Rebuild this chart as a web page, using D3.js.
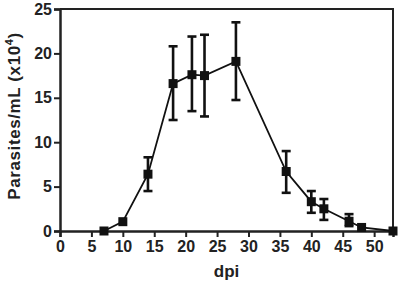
<!DOCTYPE html>
<html>
<head>
  <meta charset="UTF-8" />
  <script src="https://cdn.jsdelivr.net/npm/d3@7"></script>
  <style>
    body { margin: 0; background: #fff; font-family: 'Liberation Sans', Arial, sans-serif; }
    .tick text { font-weight: bold; font-size: 16px; fill: #222; font-family: 'Liberation Sans', Arial, sans-serif; }
  </style>
</head>
<body>
  <svg width="400" height="285"></svg>
  <script>
    // values
    const days = [7, 10, 14, 18, 21, 23, 28, 36, 40, 42, 46, 48, 53];
    const means = [0, 1.05, 6.4, 16.6, 17.6, 17.5, 19.1, 6.7, 3.3, 2.5, 1.1, 0.4, 0];
    const errUp = [0, 0, 1.9, 4.2, 4.3, 4.6, 4.4, 2.3, 1.2, 1.1, 0.8, 0.2, 0];
    const errDown = [0, 0, 1.9, 4.1, 4.1, 4.6, 4.35, 2.4, 1.25, 1.25, 0.55, 0.2, 0];
    const xTicks = [0, 5, 10, 15, 20, 25, 30, 35, 40, 45, 50];
    const yTicks = [0, 5, 10, 15, 20, 25];

    let svg = d3.select('svg');
    let mLeft = 60, mRight = 393, mTop = 9, mBottom = 231;

    let x = d3.scaleLinear().domain([0, 53]).range([mLeft, mRight]);
    let y = d3.scaleLinear().domain([0, 25]).range([mBottom, mTop]);

    let data = days.map((d, i) => ({ day: d, mean: means[i], hi: means[i] + errUp[i], lo: means[i] - errDown[i] }));

    // frame top and right
    svg.append('path')
      .attr('d', `M${mLeft},${mTop}H${mRight}V${mBottom}`)
      .attr('fill', 'none').attr('stroke', '#222').attr('stroke-width', 2);

    let xAxis = svg.append('g')
      .attr('transform', `translate(0,${mBottom})`)
      .call(d3.axisBottom(x).tickValues(xTicks).tickSize(6).tickPadding(4));
    let yAxis = svg.append('g')
      .attr('transform', `translate(${mLeft},0)`)
      .call(d3.axisLeft(y).tickValues(yTicks).tickSize(6).tickPadding(2));
    [xAxis, yAxis].forEach(a => {
      a.select('.domain').attr('stroke', '#222').attr('stroke-width', 2.5);
      a.selectAll('.tick line').attr('stroke', '#222').attr('stroke-width', 2);
    });

    // line
    svg.append('path')
      .datum(data)
      .attr('fill', 'none').attr('stroke', '#111').attr('stroke-width', 1.8)
      .attr('d', d3.line().x(d => x(d.day)).y(d => y(d.mean)));

    // error bars
    let eb = svg.append('g').attr('stroke', '#111').attr('stroke-width', 2.6)
      .selectAll('g').data(data.filter(d => d.hi > d.mean + 0.3)).enter().append('g');
    eb.append('line').attr('x1', d => x(d.day)).attr('x2', d => x(d.day))
      .attr('y1', d => y(d.hi)).attr('y2', d => y(d.lo));
    eb.append('line').attr('x1', d => x(d.day) - 4.5).attr('x2', d => x(d.day) + 4.5)
      .attr('y1', d => y(d.hi)).attr('y2', d => y(d.hi));
    eb.append('line').attr('x1', d => x(d.day) - 4.5).attr('x2', d => x(d.day) + 4.5)
      .attr('y1', d => y(d.lo)).attr('y2', d => y(d.lo));

    // markers
    svg.append('g').selectAll('rect').data(data).enter().append('rect')
      .attr('x', d => x(d.day) - 4.5).attr('y', d => y(d.mean) - 4.5)
      .attr('width', 9).attr('height', 9).attr('fill', '#111');

    // axis labels
    svg.append('text')
      .attr('x', x(26.5)).attr('y', 277)
      .attr('text-anchor', 'middle').attr('font-weight', 'bold').attr('font-size', 17).attr('fill', '#222')
      .text('dpi');
    let yl = svg.append('text')
      .attr('transform', `translate(20,116) rotate(-90)`)
      .attr('text-anchor', 'middle').attr('font-weight', 'bold').attr('font-size', 17)
      .attr('letter-spacing', 0.6).attr('fill', '#222');
    yl.append('tspan').text('Parasites/mL (x10');
    yl.append('tspan').attr('font-size', 11).attr('dy', -7).text('4');
    yl.append('tspan').attr('dy', 7).text(')');
  </script>
</body>
</html>
